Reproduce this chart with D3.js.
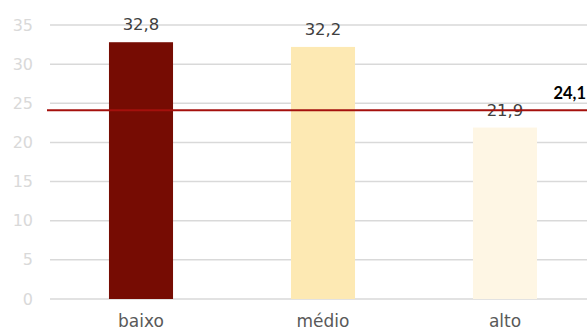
<!DOCTYPE html>
<html>
<head>
<meta charset="utf-8">
<script src="https://cdn.jsdelivr.net/npm/d3@7"></script>
<style>
  html, body { margin: 0; padding: 0; background: #fff; }
  svg { display: block; }
</style>
</head>
<body>
<svg id="chart" width="587" height="331"></svg>
<script>
// Data
const categories = ["baixo", "médio", "alto"];
const values = [32.8, 32.2, 21.9];
const barColors = ["#760c03", "#fde9b3", "#fef6e4"];
const referenceValue = 24.1;
const yTicks = [0, 5, 10, 15, 20, 25, 30, 35];

const FONT = "'DejaVu Sans', sans-serif";
const fmt = v => d3.format(".1f")(v).replace(".", ",");

const svg = d3.select("#chart");
const plotLeft = 50, plotRight = 596, plotTop = 25, plotBottom = 299;

const x = d3.scaleBand().domain(categories).range([plotLeft, plotRight]).paddingInner(0.648).paddingOuter(0.324);
const y = d3.scaleLinear().domain([0, 35]).range([plotBottom, plotTop]);

// Gridlines
svg.append("g")
  .selectAll("line")
  .data(yTicks)
  .join("line")
  .attr("x1", plotLeft).attr("x2", 587)
  .attr("y1", d => y(d)).attr("y2", d => y(d))
  .attr("stroke", "#d9d9d9").attr("stroke-width", 1.5);

// Y axis labels
const yAxis = d3.axisLeft(y).tickValues(yTicks).tickSize(0).tickPadding(0);
svg.append("g")
  .attr("transform", "translate(33,0)")
  .call(yAxis)
  .attr("font-family", FONT)
  .attr("font-size", 16)
  .call(g => g.select(".domain").remove())
  .call(g => g.selectAll("text").attr("fill", "#d9d9d9"));

// Bars
svg.append("g")
  .selectAll("rect")
  .data(values)
  .join("rect")
  .attr("x", (d, i) => x(categories[i]))
  .attr("width", x.bandwidth())
  .attr("y", d => y(d))
  .attr("height", d => y(0) - y(d))
  .attr("fill", (d, i) => barColors[i]);

// Value labels
svg.append("g")
  .attr("font-family", FONT)
  .attr("font-size", 16.5)
  .selectAll("text")
  .data(values)
  .join("text")
  .attr("x", (d, i) => x(categories[i]) + x.bandwidth() / 2)
  .attr("y", d => y(d) - 12)
  .attr("text-anchor", "middle")
  .attr("fill", "#404040")
  .text(d => fmt(d));

// Category axis
const xAxis = d3.axisBottom(x).tickSize(0).tickPadding(0);
svg.append("g")
  .attr("transform", `translate(0,${plotBottom + 16})`)
  .call(xAxis)
  .attr("font-family", FONT)
  .attr("font-size", 17)
  .call(g => g.select(".domain").remove())
  .call(g => g.selectAll("text").attr("fill", "#595959"));

// Reference line
svg.append("line")
  .attr("x1", plotLeft - 3).attr("x2", 587)
  .attr("y1", y(referenceValue)).attr("y2", y(referenceValue))
  .attr("stroke", "#a5100c").attr("stroke-width", 2);

svg.append("text")
  .attr("x", 586)
  .attr("y", y(referenceValue) - 11)
  .attr("text-anchor", "end")
  .attr("font-weight", "bold")
  .attr("font-family", "Lato, sans-serif")
  .attr("fill", "#000")
  .attr("font-size", 16.5)
  .text(fmt(referenceValue));
</script>
</body>
</html>
